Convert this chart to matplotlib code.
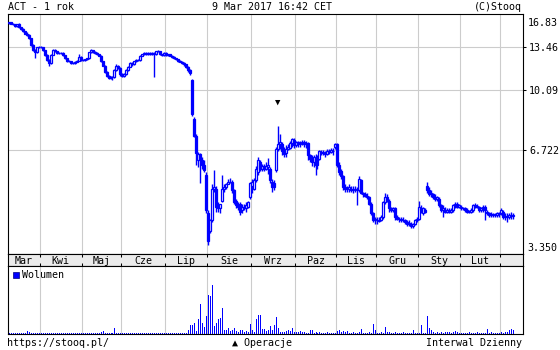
import numpy as np
import matplotlib
matplotlib.use("Agg")
import matplotlib.pyplot as plt
from matplotlib import transforms
from matplotlib.patches import Patch
from matplotlib.ticker import NullLocator

BLUE = "#0000ff"
GRID = "#cccccc"
FONT = "DejaVu Sans Mono"
FS = 7.2

title_left = "ACT - 1 rok"
title_mid = "9 Mar 2017 16:42 CET"
title_right = "(C)Stooq"
footer_left = "https://stooq.pl/"
footer_mid = "\u25b2 Operacje"
footer_right = "Interwal Dzienny"
volume_label = "Wolumen"

month_labels = ["Mar", "Kwi", "Maj", "Cze", "Lip", "Sie", "Wrz", "Paz", "Lis", "Gru", "Sty", "Lut"]
# trading days per month (last entry: March 2017, unlabelled)
month_days = [16, 21, 20, 22, 21, 22, 22, 21, 20, 21, 21, 20, 7]

y_ticks = [3.35, 6.722, 10.09, 13.46, 16.83]
y_tick_labels = ["3.350", "6.722", "10.09", "13.46", "16.83"]

operation_day = 135

# daily OHLC, one row per month
open_ = [
    15.8, 15.95, 15.75, 15.7, 15.5, 15.7, 15.4, 15.2, 15.0, 14.75, 14.65, 14.3, 13.7, 13.2, 13.0, 13.45,
    13.5, 13.45, 13.2, 12.77, 12.35, 12.1, 12.8, 13.2, 13.1, 12.95, 12.95, 12.95, 12.77, 12.5, 12.27, 12.27, 12.1, 12.1, 12.2, 12.27, 12.6,
    12.35, 12.35, 12.4, 12.5, 13.0, 13.2, 13.0, 12.95, 12.85, 12.7, 12.27, 11.9, 11.4, 11.1, 10.95, 11.0, 11.0, 11.55, 11.9, 11.7,
    11.25, 11.1, 11.25, 11.55, 11.8, 12.1, 12.0, 12.27, 12.35, 12.35, 12.7, 12.85, 12.95, 12.85, 12.95, 12.85, 12.95, 12.85, 13.1, 13.1, 12.85, 12.77,
    12.95, 12.77, 12.85, 12.7, 12.6, 12.5, 12.4, 12.27, 12.2, 12.1, 12.0, 11.8, 11.55, 10.8, 8.3, 7.4, 6.3, 6.55, 6.3, 6.1, 5.7,
    4.4, 3.9, 4.2, 5.2, 5.2, 4.6, 4.55, 4.8, 5.2, 5.25, 5.35, 5.45, 5.45, 5.15, 4.8, 4.65, 4.7, 4.5, 4.6, 4.55, 4.6, 4.9,
    5.3, 5.2, 5.5, 5.8, 6.2, 5.95, 6.05, 5.95, 6.0, 5.95, 5.45, 5.4, 5.9, 6.8, 7.0, 7.0, 6.75, 6.6, 6.8, 6.85, 7.05, 7.2,
    6.95, 7.1, 7.0, 7.05, 7.1, 7.0, 7.05, 6.5, 6.4, 6.2, 6.4, 6.1, 6.35, 6.65, 6.6, 6.6, 6.55, 6.7, 6.65, 6.7, 6.9,
    7.0, 6.1, 5.85, 5.65, 5.25, 5.2, 5.2, 5.2, 5.15, 5.2, 5.2, 5.15, 5.5, 5.05, 5.0, 4.95, 4.9, 4.7, 4.4, 4.25,
    4.2, 4.2, 4.2, 4.3, 4.75, 4.9, 4.8, 4.55, 4.5, 4.55, 4.3, 4.25, 4.25, 4.2, 4.2, 4.15, 4.1, 4.1, 4.05, 4.1, 4.2,
    4.25, 4.55, 4.4, 4.5, 5.3, 5.15, 5.0, 5.0, 4.9, 4.85, 4.85, 4.65, 4.5, 4.5, 4.45, 4.5, 4.45, 4.5, 4.65, 4.7, 4.6,
    4.6, 4.55, 4.55, 4.5, 4.45, 4.45, 4.5, 4.65, 4.6, 4.6, 4.5, 4.55, 4.6, 4.45, 4.4, 4.35, 4.38, 4.35, 4.35, 4.4,
    4.4, 4.45, 4.3, 4.32, 4.3, 4.35, 4.32,
]
high = [
    16.0, 16.0, 15.8, 15.75, 15.75, 15.8, 15.45, 15.3, 15.05, 14.9, 14.7, 14.35, 13.75, 13.3, 13.5, 13.6,
    13.55, 13.5, 13.25, 12.85, 12.4, 12.85, 13.3, 13.3, 13.15, 13.05, 13.0, 13.0, 12.8, 12.55, 12.35, 12.3, 12.2, 12.25, 12.35, 12.85, 12.65,
    12.45, 12.45, 12.55, 13.05, 13.3, 13.25, 13.1, 13.0, 12.9, 12.75, 12.3, 11.95, 11.5, 11.2, 11.1, 11.1, 11.6, 12.05, 11.95, 11.75,
    11.3, 11.3, 11.6, 11.85, 12.15, 12.15, 12.3, 12.4, 12.4, 12.75, 12.9, 13.0, 13.0, 13.0, 13.0, 13.0, 13.0, 13.15, 13.25, 13.15, 12.9, 13.0,
    13.0, 12.9, 12.9, 12.75, 12.65, 12.55, 12.45, 12.35, 12.3, 12.15, 12.05, 11.85, 11.6, 10.85, 8.4, 7.5, 6.65, 6.6, 6.45, 6.3, 5.8,
    4.5, 4.25, 5.35, 5.9, 5.3, 4.75, 4.7, 5.7, 5.35, 5.4, 5.55, 5.6, 5.5, 5.2, 4.85, 4.75, 4.75, 4.7, 4.7, 4.75, 4.8, 5.45,
    5.55, 5.6, 6.05, 6.45, 6.3, 6.15, 6.15, 6.2, 6.4, 6.0, 5.55, 5.5, 6.9, 7.9, 7.5, 7.1, 6.9, 6.95, 7.0, 7.15, 7.3, 7.3,
    7.15, 7.15, 7.15, 7.2, 7.2, 7.15, 7.1, 6.55, 6.5, 6.5, 6.55, 6.5, 6.75, 6.75, 6.75, 6.7, 6.8, 6.8, 6.85, 6.85, 7.05,
    7.05, 6.2, 5.95, 5.7, 5.35, 5.3, 5.35, 5.3, 5.3, 5.3, 5.25, 5.65, 5.55, 5.1, 5.1, 5.05, 4.95, 4.75, 4.45, 4.3,
    4.3, 4.3, 4.35, 4.8, 5.05, 5.0, 4.85, 4.6, 4.6, 4.6, 4.35, 4.3, 4.3, 4.3, 4.25, 4.2, 4.2, 4.15, 4.12, 4.25, 4.3,
    4.8, 4.65, 4.6, 4.55, 5.45, 5.25, 5.15, 5.05, 5.0, 4.95, 4.9, 4.7, 4.65, 4.6, 4.55, 4.55, 4.55, 4.7, 4.75, 4.75, 4.7,
    4.65, 4.6, 4.6, 4.55, 4.5, 4.55, 4.7, 4.72, 4.68, 4.62, 4.6, 4.65, 4.65, 4.5, 4.45, 4.45, 4.42, 4.42, 4.45, 4.45,
    4.55, 4.5, 4.4, 4.4, 4.4, 4.45, 4.4,
]
low = [
    15.75, 15.7, 15.6, 15.45, 15.45, 15.35, 15.1, 14.9, 14.7, 14.55, 14.2, 13.6, 13.1, 12.5, 12.95, 13.35,
    13.35, 13.15, 12.7, 12.3, 11.9, 12.05, 12.75, 13.0, 12.9, 12.85, 12.85, 12.7, 12.45, 12.2, 12.15, 12.05, 12.0, 12.05, 12.15, 12.25, 12.3,
    12.25, 12.3, 12.35, 12.45, 12.95, 12.95, 12.9, 12.8, 12.65, 12.2, 11.85, 11.35, 11.0, 10.85, 10.85, 10.8, 10.95, 11.5, 11.6, 11.1,
    11.0, 11.05, 11.2, 11.5, 11.75, 11.9, 11.95, 12.2, 12.25, 12.3, 12.65, 12.8, 12.8, 12.8, 12.8, 12.8, 11.0, 12.8, 13.0, 12.8, 12.7, 12.7,
    12.7, 12.7, 12.65, 12.55, 12.45, 12.35, 12.2, 12.15, 12.05, 11.9, 11.7, 11.4, 11.2, 8.5, 7.35, 6.1, 6.0, 5.4, 5.95, 5.8, 4.4,
    3.55, 3.85, 4.15, 5.1, 4.45, 4.45, 4.4, 4.75, 5.1, 5.2, 5.35, 5.4, 5.05, 4.7, 4.55, 4.5, 4.35, 4.4, 4.5, 4.45, 4.55, 4.85,
    5.05, 5.15, 5.45, 5.7, 5.85, 5.85, 5.85, 5.9, 5.75, 5.4, 5.1, 5.15, 5.8, 6.7, 6.8, 6.5, 6.45, 6.45, 6.75, 6.8, 6.9, 6.85,
    6.9, 6.9, 6.9, 6.95, 6.9, 6.85, 6.3, 6.2, 6.05, 6.0, 5.7, 5.95, 6.3, 6.5, 6.5, 6.45, 6.5, 6.55, 6.6, 6.5, 6.8,
    6.0, 5.7, 5.55, 5.15, 5.1, 5.1, 5.1, 5.1, 5.05, 5.1, 4.65, 5.1, 5.0, 4.9, 4.9, 4.85, 4.65, 4.35, 4.15, 4.1,
    4.1, 4.15, 4.18, 4.25, 4.7, 4.75, 4.45, 4.45, 4.45, 4.2, 4.2, 4.15, 4.15, 4.15, 4.1, 4.05, 4.05, 4.0, 4.0, 4.08, 4.15,
    4.2, 4.4, 4.35, 4.4, 5.05, 4.95, 4.9, 4.85, 4.8, 4.8, 4.6, 4.45, 4.3, 4.4, 4.4, 4.4, 4.4, 4.45, 4.55, 4.55, 4.55,
    4.5, 4.5, 4.45, 4.4, 4.4, 4.4, 4.45, 4.55, 4.55, 4.45, 4.45, 4.45, 4.2, 4.35, 4.3, 4.3, 4.3, 4.3, 4.3, 4.3,
    4.35, 4.25, 4.2, 4.15, 4.25, 4.25, 4.25,
]
close_ = [
    15.95, 15.75, 15.7, 15.5, 15.7, 15.4, 15.2, 15.0, 14.75, 14.65, 14.3, 13.7, 13.2, 13.0, 13.45, 13.5,
    13.45, 13.2, 12.77, 12.35, 12.1, 12.77, 13.2, 13.1, 12.95, 12.95, 12.95, 12.77, 12.5, 12.27, 12.27, 12.1, 12.1, 12.2, 12.27, 12.6, 12.35,
    12.35, 12.4, 12.5, 13.0, 13.2, 13.0, 12.95, 12.85, 12.7, 12.27, 11.9, 11.4, 11.1, 10.95, 11.0, 11.0, 11.55, 11.9, 11.7, 11.25,
    11.1, 11.25, 11.55, 11.8, 12.1, 12.0, 12.27, 12.35, 12.35, 12.7, 12.85, 12.95, 12.85, 12.95, 12.85, 12.95, 12.85, 13.1, 13.1, 12.85, 12.77, 12.95,
    12.77, 12.85, 12.7, 12.6, 12.5, 12.4, 12.27, 12.2, 12.1, 12.0, 11.8, 11.55, 11.3, 8.6, 7.4, 6.6, 6.55, 6.3, 6.1, 5.9, 4.5,
    3.65, 4.2, 5.2, 5.25, 4.6, 4.55, 4.7, 5.2, 5.25, 5.35, 5.45, 5.45, 5.15, 4.75, 4.65, 4.6, 4.45, 4.6, 4.55, 4.65, 4.75, 5.4,
    5.45, 5.5, 5.95, 6.3, 5.95, 6.05, 5.95, 6.05, 6.1, 5.5, 5.25, 5.25, 6.8, 7.0, 7.1, 6.7, 6.55, 6.8, 6.9, 7.05, 7.25, 6.95,
    7.1, 7.0, 7.05, 7.1, 7.0, 7.05, 6.5, 6.35, 6.2, 6.45, 6.1, 6.4, 6.7, 6.6, 6.65, 6.55, 6.7, 6.65, 6.75, 6.7, 7.0,
    6.1, 5.8, 5.65, 5.25, 5.2, 5.2, 5.25, 5.15, 5.2, 5.2, 5.15, 5.55, 5.05, 5.0, 4.95, 4.9, 4.7, 4.4, 4.2, 4.2,
    4.2, 4.18, 4.3, 4.75, 4.9, 4.8, 4.55, 4.5, 4.55, 4.3, 4.25, 4.25, 4.2, 4.22, 4.15, 4.1, 4.12, 4.05, 4.1, 4.2, 4.25,
    4.6, 4.5, 4.55, 4.45, 5.15, 5.0, 5.05, 4.9, 4.85, 4.9, 4.65, 4.5, 4.55, 4.45, 4.5, 4.45, 4.5, 4.65, 4.7, 4.6, 4.65,
    4.55, 4.55, 4.5, 4.45, 4.45, 4.5, 4.65, 4.6, 4.62, 4.5, 4.55, 4.6, 4.5, 4.4, 4.35, 4.38, 4.35, 4.35, 4.4, 4.38,
    4.5, 4.3, 4.32, 4.3, 4.35, 4.32, 4.35,
]
volume = [
    1.5, 1.3, 1.3, 1.2, 1.3, 1.5, 1.3, 1.2, 1.3, 3.5, 2.0, 1.3, 1.5, 1.3, 1.2, 1.3,
    1.2, 1.3, 1.5, 1.3, 1.3, 1.2, 1.3, 1.3, 1.2, 1.3, 1.2, 1.3, 1.3, 1.2, 1.3, 1.2, 1.3, 1.3, 1.2, 1.3, 1.2,
    1.3, 1.3, 1.2, 1.3, 1.2, 1.3, 1.3, 1.2, 1.5, 2.7, 3.5, 1.5, 1.3, 1.3, 1.5, 1.3, 6.0, 1.5, 1.3, 1.2,
    1.3, 1.3, 1.2, 1.3, 1.2, 1.3, 1.3, 1.2, 1.3, 1.2, 1.3, 1.3, 1.2, 1.3, 1.2, 1.3, 1.5, 1.2, 1.3, 1.2, 1.3, 1.3,
    1.2, 1.3, 1.2, 1.3, 1.3, 1.2, 1.3, 1.3, 1.3, 1.3, 1.3, 4.0, 9.0, 9.0, 11.0, 3.3, 15.0, 30.0, 11.0, 7.3, 18.0,
    39.0, 38.0, 49.0, 8.3, 11.0, 15.0, 16.0, 26.0, 4.0, 4.0, 6.0, 3.3, 4.0, 6.0, 3.0, 2.0, 4.0, 4.0, 2.3, 3.3, 2.0, 10.0,
    4.0, 2.0, 15.0, 19.0, 19.0, 5.0, 5.0, 3.0, 4.0, 8.0, 4.7, 9.0, 17.0, 6.0, 2.0, 2.0, 2.0, 3.0, 4.0, 3.0, 6.0, 2.0,
    2.0, 2.0, 3.0, 2.0, 2.0, 1.3, 1.3, 4.0, 4.0, 1.3, 2.3, 1.3, 2.0, 1.3, 1.3, 1.3, 2.0, 1.3, 1.3, 1.3, 1.3,
    3.0, 4.0, 2.0, 3.0, 2.0, 3.3, 1.5, 1.3, 2.0, 1.3, 1.5, 2.0, 5.7, 1.5, 1.3, 1.3, 2.0, 1.5, 10.7, 4.0,
    1.5, 1.3, 2.0, 1.5, 7.3, 2.0, 2.5, 1.5, 1.3, 2.0, 1.5, 1.3, 1.5, 2.0, 1.3, 1.3, 1.5, 1.3, 4.0, 1.3, 1.5,
    1.3, 9.0, 1.5, 1.3, 18.3, 6.0, 4.3, 2.0, 1.5, 2.0, 1.5, 2.5, 1.3, 2.0, 2.0, 2.5, 1.5, 2.0, 3.0, 2.0, 1.3,
    1.5, 1.3, 1.5, 1.3, 2.0, 1.5, 1.3, 1.5, 2.0, 1.5, 1.3, 1.5, 1.3, 5.0, 1.5, 2.0, 1.3, 1.5, 1.3, 1.5,
    2.0, 1.3, 2.0, 2.0, 4.3, 5.0, 4.3,
]

plt.rcParams["font.family"] = FONT
plt.rcParams["font.size"] = FS

o = np.array(open_)
h = np.array(high)
l = np.array(low)
c = np.array(close_)
v = np.array(volume)
x = np.arange(len(c))
n_slots = 258.6
xlim = (-0.5, n_slots - 0.5)

bounds = np.cumsum(month_days)[:-1] - 0.5
starts = np.concatenate([[-0.5], bounds])
ends = np.concatenate([bounds, [starts[-1] + month_days[-1]]])
centers = (starts + ends) / 2

W, H = 560, 350
fig = plt.figure(figsize=(W / 100, H / 100), dpi=100)
fig.patch.set_facecolor("white")


def rect(x0, y0, x1, y1):
    return [x0 / W, 1 - y1 / H, (x1 - x0) / W, (y1 - y0) / H]


ax = fig.add_axes(rect(8, 14, 522.7, 254))
band = fig.add_axes(rect(8, 254, 522.7, 266))
axv = fig.add_axes(rect(8, 266, 522.7, 334.3))

# price panel
ax.set_yscale("log")
ax.set_ylim(y_ticks[0], y_ticks[-1])
ax.set_xlim(*xlim)
ax.yaxis.set_minor_locator(NullLocator())
ax.set_yticks(y_ticks[1:-1])
ax.set_yticklabels(y_tick_labels[1:-1])
ax.set_xticks(bounds)
ax.set_xticklabels([])
ax.tick_params(axis="x", length=0)
ax.tick_params(axis="y", which="both", left=False, right=True, labelleft=False,
               labelright=True, direction="out", length=2, pad=2.5, width=0.75)
ax.grid(True, color=GRID, lw=0.8)
ax.set_axisbelow(True)

up = c >= o
lo_b = np.minimum(o, c)
hi_b = np.maximum(o, c)
ax.vlines(x, l, h, color=BLUE, lw=1.0, zorder=2)
ax.bar(x[up], (hi_b - lo_b)[up], bottom=lo_b[up], width=1.0, facecolor="white",
       edgecolor=BLUE, lw=0.9, zorder=3)
ax.bar(x[~up], (hi_b - lo_b)[~up], bottom=lo_b[~up], width=1.0, facecolor=BLUE,
       edgecolor=BLUE, lw=0.9, zorder=3)

ax.annotate("\u25bc", xy=(operation_day, h[operation_day]), xytext=(0, 14),
            textcoords="offset points", ha="center", va="bottom", fontsize=6.5, color="black")

edge_tf = transforms.blended_transform_factory(ax.transAxes, ax.transData)
ax.text(1.0, y_ticks[-1], y_tick_labels[-1], ha="left", va="center",
        transform=edge_tf + transforms.ScaledTranslation(0.05, -0.095, fig.dpi_scale_trans))
ax.text(1.0, y_ticks[0], y_tick_labels[0], ha="left", va="center",
        transform=edge_tf + transforms.ScaledTranslation(0.05, 0.057, fig.dpi_scale_trans))

# month band
band.set_facecolor("#ebebeb")
band.set_xlim(*xlim)
band.set_ylim(0, 1)
band.set_yticks([])
band.set_xticks(bounds)
band.set_xticklabels([])
band.tick_params(axis="x", direction="in", top=True, bottom=True, length=2, width=0.75)
for cx, lab in zip(centers, month_labels):
    band.text(cx, 0.45, lab, ha="center", va="center")

# volume panel
axv.set_xlim(*xlim)
axv.set_ylim(0, v.max() * 68.3 / 49)
axv.set_yticks([])
axv.set_xticks(bounds)
axv.set_xticklabels([])
axv.tick_params(axis="x", length=0)
axv.grid(True, axis="x", color=GRID, lw=0.8)
axv.set_axisbelow(True)
axv.vlines(x, 0, v, color=BLUE, lw=0.72, zorder=2, antialiased=False)
axv.legend([Patch(facecolor=BLUE, edgecolor="#000080", lw=0.5)], [volume_label],
           loc="upper left", frameon=False, handlelength=0.65, handleheight=0.65,
           handletextpad=0.3, borderaxespad=0.25, borderpad=0.2)

for a in (ax, band, axv):
    for s in a.spines.values():
        s.set_linewidth(0.8)
        s.set_color("black")

# header / footer
fig.text(8 / W, 1 - 7.5 / H, title_left, ha="left", va="center")
fig.text(272 / W, 1 - 7.5 / H, title_mid, ha="center", va="center")
fig.text(522 / W, 1 - 7.5 / H, title_right, ha="right", va="center")
fig.text(7 / W, 1 - 343.5 / H, footer_left, ha="left", va="center")
fig.text(262 / W, 1 - 343.5 / H, footer_mid, ha="center", va="center")
fig.text(522 / W, 1 - 343.5 / H, footer_right, ha="right", va="center")

fig.savefig("out.png", dpi=100)
